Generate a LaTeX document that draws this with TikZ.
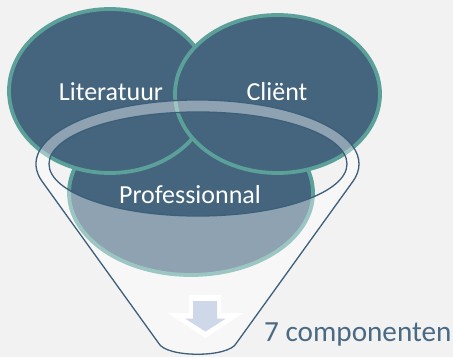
\documentclass[tikz,border=0pt]{standalone}
\usepackage{fontspec}
\setmainfont{Carlito}
\definecolor{bgc}{HTML}{F2F2F2}
\definecolor{slate}{HTML}{44657D}
\definecolor{tealc}{HTML}{5BA19A}
\definecolor{funnelc}{HTML}{3D5F7A}
\definecolor{arrowc}{HTML}{CFD8E8}
\definecolor{outc}{HTML}{4A6A84}
\begin{document}
\begin{tikzpicture}[x=1pt,y=1pt,
  venn/.style={fill=slate, draw=tealc, line width=3.8pt},
  lbl/.style={text=white, font=\fontsize{26}{30}\selectfont, inner sep=0pt, anchor=base},
  funnelline/.style={draw=funnelc, line width=1.3pt, line join=round},
  funnelfill/.style={fill=white, fill opacity=0.4, even odd rule}]
\fill[bgc] (0,0) rectangle (453,357);
\useasboundingbox (0,0) rectangle (453,357);
% three overlapping ellipses
\path[venn] (191,164) ellipse [x radius=122, y radius=82];
\path[venn] (110,266) ellipse [x radius=101, y radius=82];
\path[venn] (277.5,263) ellipse [x radius=102.5, y radius=79];
\node[lbl] (lit) at (111,257) {Literatuur};
\node[lbl] (cli) at (277,257) {Cliënt};
\node[lbl] (pro) at (190,154) {Professionnal};
% funnel
\coordinate (fl) at (42.2,175.5);
\coordinate (fbl) at (158.5,14);
\coordinate (fbr) at (236.5,14);
\coordinate (ic) at (198,193);
\path[funnelfill]
  (fl) arc[start angle=195.9, end angle=-15.9, x radius=161.5, y radius=64]
  -- (fbr) .. controls (229,-1) and (166,-1) .. (fbl) -- cycle
  (ic) ellipse [x radius=149, y radius=52];
\path[funnelline]
  (fl) arc[start angle=195.9, end angle=-15.9, x radius=161.5, y radius=64]
  -- (fbr) .. controls (229,-1) and (166,-1) .. (fbl) -- cycle;
\path[funnelline] (ic) ellipse [x radius=149, y radius=52];
% arrow
\fill[white] (189,62) -- (221,62) -- (221,44) -- (243,44) -- (205.5,19) -- (168,44) -- (189,44) -- cycle;
\fill[arrowc] (193,56) -- (217,56) -- (217,38.5) -- (226,38.5) -- (205.5,25.5) -- (185,38.5) -- (193,38.5) -- cycle;
\node[text=outc, font=\fontsize{29.2}{33}\selectfont, inner sep=0pt, anchor=base west] (out) at (264,15.5) {7 componenten};
\end{tikzpicture}
\end{document}
